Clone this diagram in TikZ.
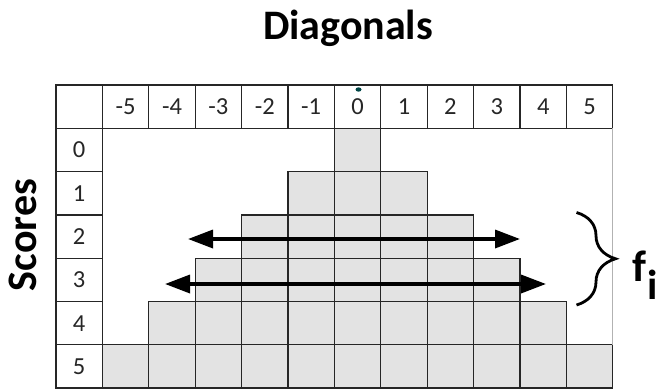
\documentclass[tikz,border=0pt]{standalone}
\usepackage{fontspec}
\setmainfont{Carlito}
\usetikzlibrary{arrows.meta,decorations.pathreplacing}
\begin{document}
\begin{tikzpicture}[x=1pt,y=-1pt,
  cell/.style={minimum width=46.4pt,minimum height=43.3pt,inner sep=0pt,outer sep=0pt,
    font=\fontsize{24.5}{24.5}\selectfont,text=black!85},
  boxcell/.style={cell,draw=black!85,line width=1.3pt},
  greycell/.style={boxcell,fill=black!11},
  dblarrow/.style={{Triangle[length=25pt,width=18pt]}-{Triangle[length=25pt,width=18pt]},line width=3.4pt},
  bigbold/.style={font=\fontsize{42}{42}\selectfont\bfseries,text=black},
  bracestyle/.style={decorate,decoration={brace,amplitude=39pt,aspect=0.5},line width=2.8pt}
]
\useasboundingbox (0,0) rectangle (663,389);
% title
\node[bigbold,anchor=base] (title) at (348,39.3) {Diagonals};
\node[bigbold,anchor=base,rotate=90] (scores) at (36.5,235) {Scores};
% grid
\foreach \j in {0,...,11}{
  \foreach \m in {0,...,6}{
    \pgfmathtruncatemacro\d{\j-6}
    \pgfmathtruncatemacro\r{\m-1}
    \pgfmathtruncatemacro\ad{abs(\d)}
    \ifnum\m=0
      \ifnum\j=0
        \node[boxcell] (c\j-\m) at (79.2+46.4*\j,106.65+43.3*\m) {};
      \else
        \node[boxcell] (c\j-\m) at (79.2+46.4*\j,106.65+43.3*\m) {\d};
      \fi
    \else
      \ifnum\j=0
        \node[boxcell] (c\j-\m) at (79.2+46.4*\j,106.65+43.3*\m) {\r};
      \else
        \ifnum\ad>\r
          \node[cell] (c\j-\m) at (79.2+46.4*\j,106.65+43.3*\m) {};
        \else
          \node[greycell] (c\j-\m) at (79.2+46.4*\j,106.65+43.3*\m) {};
        \fi
      \fi
    \fi
  }
}
% thin right border of the open area
\draw[black!30,line width=0.8pt] (c11-0.south east) -- (c11-6.north east);
% arrows
\coordinate (a1l) at (188,239);
\coordinate (a1r) at (520,239);
\coordinate (a2l) at (165,284);
\coordinate (a2r) at (546,284);
\draw[dblarrow] (a1l) -- (a1r);
\draw[dblarrow] (a2l) -- (a2r);
% brace
\coordinate (bt) at (576.5,212.5);
\coordinate (bb) at (576.5,305);
\draw[bracestyle] (bt) -- (bb);
\node[anchor=base west,inner sep=0pt,font=\fontsize{44}{44}\selectfont\bfseries] (fi) at (632,281.7)
  {f\kern1pt\raisebox{-18pt}{\fontsize{42}{42}\selectfont i}};
% small mark above the 0
\fill[teal!55!black] (358.5,89.5) ellipse (3pt and 2.2pt);
\end{tikzpicture}
\end{document}
